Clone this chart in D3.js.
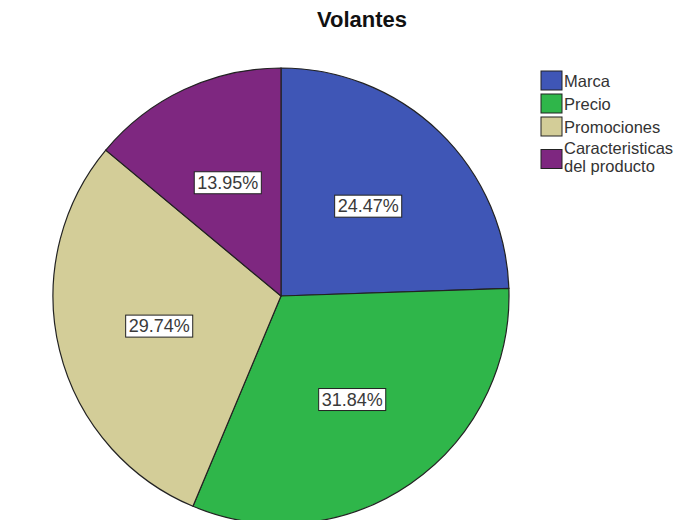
<!DOCTYPE html>
<html>
<head>
<meta charset="utf-8">
<script src="https://cdn.jsdelivr.net/npm/d3@7"></script>
<style>
  html, body { margin: 0; padding: 0; background: #fff; }
  svg { display: block; font-family: Arial, "Liberation Sans", sans-serif; }
</style>
</head>
<body>
<svg id="chart" width="688" height="520"></svg>
<script>
// Reasons for using flyers: share of respondents per reason
const categories = ["Marca", "Precio", "Promociones", "Caracteristicas del producto"];
const legendLines = [["Marca"], ["Precio"], ["Promociones"], ["Caracteristicas", "del producto"]];
const percentages = [24.47, 31.84, 29.74, 13.95];
const colors = ["#3f56b6", "#2fb64a", "#d3cd98", "#7e2780"];
const title = "Volantes";

const svg = d3.select("#chart");

const cx = 281, cy = 296, radius = 228;

svg.append("text")
  .attr("x", 362).attr("y", 27)
  .attr("text-anchor", "middle")
  .attr("font-size", 22).attr("font-weight", "bold")
  .attr("fill", "#111")
  .text(title);

const data = categories.map((c, i) => ({ name: c, value: percentages[i], color: colors[i] }));

const pie = d3.pie().sort(null).value(d => d.value);
const arc = d3.arc().innerRadius(0).outerRadius(radius);
const labelArc = d3.arc().innerRadius(radius * 0.55).outerRadius(radius * 0.55);

const g = svg.append("g").attr("transform", `translate(${cx},${cy})`);
const arcs = pie(data);

g.selectAll("path.slice")
  .data(arcs)
  .join("path")
  .attr("class", "slice")
  .attr("d", arc)
  .attr("fill", d => d.data.color)
  .attr("stroke", "#222")
  .attr("stroke-width", 1.2);

const fmt = v => v.toFixed(2) + "%";
const labels = g.selectAll("g.label")
  .data(arcs)
  .join("g")
  .attr("class", "label")
  .attr("transform", d => `translate(${labelArc.centroid(d)})`);

labels.each(function(d) {
  const lg = d3.select(this);
  const t = lg.append("text")
    .attr("text-anchor", "middle")
    .attr("dy", "0.35em")
    .attr("font-size", 18)
    .attr("fill", "#3a3a3a")
    .text(fmt(d.data.value));
  const bb = t.node().getBBox();
  lg.insert("rect", "text")
    .attr("x", bb.x - 3).attr("y", bb.y - 1)
    .attr("width", bb.width + 6).attr("height", bb.height + 2)
    .attr("fill", "#fff")
    .attr("stroke", "#222")
    .attr("stroke-width", 1);
});

// Legend
const legend = svg.append("g").attr("transform", "translate(541,71)");
const itemStep = 23, lineHeight = 18, sw = 21, sh = 19;
legendLines.forEach((lines, i) => {
  const y0 = i * itemStep;
  const item = legend.append("g").attr("transform", `translate(0,${y0})`);
  const blockH = lines.length === 1 ? sh : lineHeight * lines.length;
  const swTop = lines.length === 1 ? 0 : (blockH - sh) / 2 + 1;
  item.append("rect")
    .attr("x", 0).attr("y", swTop)
    .attr("width", sw).attr("height", sh)
    .attr("fill", colors[i])
    .attr("stroke", "#222").attr("stroke-width", 1);
  lines.forEach((ln, k) => {
    item.append("text")
      .attr("x", 23)
      .attr("y", (lines.length === 1 ? 16 : 14) + k * lineHeight)
      .attr("font-size", 16.5)
      .attr("fill", "#333")
      .text(ln);
  });
});
</script>
</body>
</html>
